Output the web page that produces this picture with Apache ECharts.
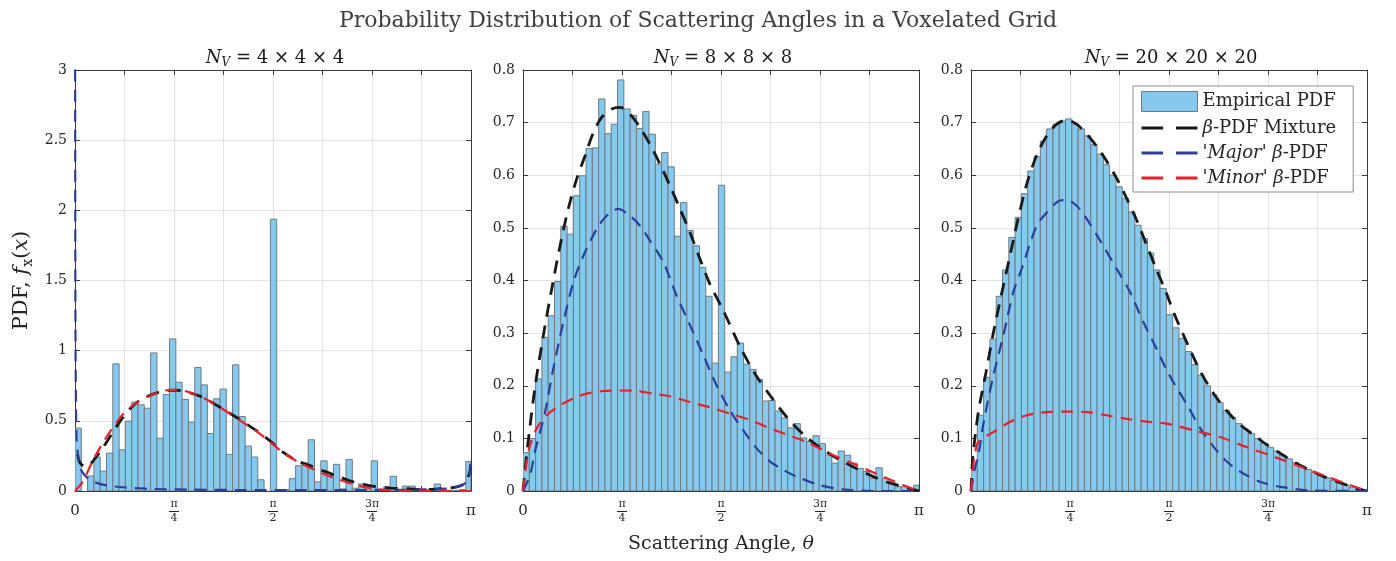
<!DOCTYPE html>
<html><head><meta charset="utf-8">
<script src="https://cdn.jsdelivr.net/npm/echarts@6/dist/echarts.min.js"></script>
<style>html,body{margin:0;padding:0;background:#fff}#c{width:1396px;height:561px}</style>
</head><body><div id="c"></div>
<script>
// ---------------- data ----------------
const BIN_WIDTH = 0.05; // rad
const xTickLabels = ['0', '', 'π/4', '', 'π/2', '', '3π/4', '', 'π'];
const panelSizes = ['4 × 4 × 4', '8 × 8 × 8', '20 × 20 × 20'];
const yMax = [3, 0.8, 0.8];
const yStep = [0.5, 0.1, 0.1];

const hist4 = [0.448,0,0.107,0.242,0.142,0.27,0.906,0.294,0.498,0.633,0.614,0.59,0.984,0.377,0.688,1.084,0.775,0.652,0.491,0.88,0.756,0.41,0.657,0.726,0.261,0.899,0.531,0.32,0.242,0.08,0,1.937,0.01,0.01,0.088,0.18,0.2,0.365,0.065,0.215,0.11,0.19,0.015,0.225,0.02,0.05,0.04,0.215,0.005,0.03,0.105,0.01,0.035,0.035,0.005,0.005,0.01,0.05,0.01,0.005,0.005,0.01,0.21];
const hist8 = [0.073,0.1,0.213,0.292,0.333,0.398,0.503,0.488,0.561,0.599,0.651,0.652,0.745,0.679,0.697,0.781,0.726,0.714,0.689,0.721,0.678,0.621,0.643,0.616,0.484,0.548,0.495,0.466,0.425,0.37,0.243,0.581,0.226,0.255,0.281,0.241,0.231,0.212,0.171,0.172,0.152,0.139,0.12,0.128,0.101,0.094,0.105,0.09,0.068,0.053,0.076,0.068,0.053,0.043,0.037,0.024,0.044,0.024,0.018,0.008,0.008,0.004,0.011];
const hist20 = [0.049,0.144,0.216,0.289,0.37,0.42,0.482,0.52,0.565,0.608,0.635,0.665,0.688,0.697,0.703,0.707,0.696,0.688,0.675,0.658,0.64,0.62,0.6,0.578,0.556,0.53,0.505,0.48,0.452,0.42,0.385,0.335,0.31,0.29,0.265,0.24,0.22,0.2,0.183,0.168,0.153,0.14,0.128,0.118,0.109,0.1,0.091,0.083,0.076,0.068,0.061,0.054,0.047,0.041,0.035,0.03,0.025,0.02,0.016,0.011,0.007,0.004,0.001];

const mix4 = [[0.02,0.26],[0.04,0.2],[0.08,0.175],[0.12,0.19],[0.2,0.28],[0.28,0.39],[0.36,0.5],[0.44,0.59],[0.52,0.65],[0.62,0.69],[0.73,0.716],[0.81,0.718],[0.91,0.7],[1.02,0.665],[1.12,0.613],[1.23,0.553],[1.34,0.49],[1.44,0.43],[1.55,0.355],[1.65,0.277],[1.76,0.215],[1.87,0.179],[1.97,0.143],[2.08,0.107],[2.18,0.072],[2.29,0.048],[2.39,0.031],[2.5,0.021],[2.61,0.017],[2.71,0.012],[2.82,0.012],[2.92,0.017],[3.03,0.029],[3.09,0.055],[3.13,0.13],[3.1416,0.21]];
const major4 = [[0.0005,4.0],[0.002,2.0],[0.004,1.1],[0.008,0.6],[0.013,0.36],[0.026,0.24],[0.04,0.17],[0.055,0.14],[0.09,0.1],[0.15,0.065],[0.25,0.04],[0.4,0.025],[0.6,0.015],[0.9,0.01],[1.3,0.007],[1.8,0.006],[2.3,0.007],[2.7,0.01],[2.95,0.018],[3.05,0.035],[3.1,0.06],[3.13,0.12],[3.1416,0.22]];
const minor4 = [[0,0],[0.066,0.072],[0.132,0.2],[0.212,0.33],[0.291,0.44],[0.384,0.55],[0.489,0.63],[0.621,0.69],[0.754,0.72],[0.859,0.715],[1.018,0.665],[1.124,0.61],[1.23,0.55],[1.336,0.487],[1.441,0.425],[1.547,0.35],[1.653,0.272],[1.785,0.2],[1.918,0.143],[2.05,0.095],[2.182,0.055],[2.315,0.024],[2.474,0.007],[2.66,0.001],[2.9,0],[3.1416,0]];

const mix8 = [[0,0],[0.025,0.06],[0.05,0.112],[0.095,0.197],[0.161,0.295],[0.228,0.384],[0.294,0.466],[0.359,0.536],[0.426,0.593],[0.492,0.637],[0.558,0.681],[0.624,0.71],[0.704,0.726],[0.769,0.729],[0.849,0.716],[0.928,0.691],[1.007,0.659],[1.087,0.621],[1.166,0.58],[1.246,0.536],[1.325,0.491],[1.404,0.441],[1.483,0.393],[1.589,0.343],[1.72,0.275],[1.84,0.223],[1.959,0.182],[2.105,0.137],[2.25,0.102],[2.41,0.074],[2.569,0.052],[2.727,0.033],[2.886,0.017],[3.02,0.008],[3.1416,0]];
const major8 = [[0,0],[0.056,0.03],[0.095,0.075],[0.175,0.15],[0.24,0.232],[0.32,0.321],[0.4,0.397],[0.479,0.447],[0.585,0.498],[0.664,0.523],[0.756,0.536],[0.849,0.523],[0.928,0.504],[1.007,0.476],[1.113,0.435],[1.219,0.371],[1.325,0.315],[1.431,0.258],[1.537,0.2],[1.642,0.153],[1.748,0.115],[1.854,0.081],[1.96,0.056],[2.066,0.04],[2.172,0.027],[2.357,0.011],[2.54,0.003],[2.8,0],[3.1416,0]];
const minor8 = [[0,0],[0.029,0.056],[0.056,0.087],[0.109,0.119],[0.188,0.144],[0.294,0.163],[0.4,0.176],[0.505,0.185],[0.637,0.19],[0.77,0.191],[0.9,0.19],[1.033,0.185],[1.166,0.18],[1.325,0.169],[1.484,0.159],[1.642,0.147],[1.8,0.135],[1.96,0.119],[2.105,0.106],[2.25,0.093],[2.436,0.071],[2.648,0.049],[2.859,0.027],[3.018,0.011],[3.1416,0]];

const mix20 = [[0,0],[0.013,0.06],[0.058,0.15],[0.111,0.215],[0.177,0.3],[0.243,0.375],[0.309,0.447],[0.376,0.52],[0.442,0.583],[0.521,0.638],[0.601,0.675],[0.68,0.697],[0.759,0.705],[0.838,0.697],[0.918,0.678],[0.997,0.655],[1.076,0.627],[1.156,0.594],[1.235,0.556],[1.314,0.515],[1.394,0.467],[1.473,0.42],[1.552,0.375],[1.61,0.338],[1.716,0.28],[1.822,0.226],[1.928,0.184],[2.034,0.151],[2.14,0.125],[2.245,0.106],[2.351,0.087],[2.457,0.071],[2.563,0.055],[2.668,0.042],[2.774,0.03],[2.88,0.02],[2.986,0.011],[3.09,0.003],[3.1416,0]];
const major20 = [[0,0],[0.03,0.042],[0.058,0.068],[0.1,0.13],[0.177,0.219],[0.256,0.295],[0.336,0.378],[0.402,0.422],[0.521,0.504],[0.601,0.529],[0.706,0.552],[0.759,0.553],[0.838,0.542],[0.918,0.517],[1.024,0.476],[1.156,0.422],[1.262,0.378],[1.367,0.321],[1.473,0.27],[1.552,0.23],[1.61,0.205],[1.716,0.163],[1.822,0.118],[1.928,0.083],[2.034,0.055],[2.14,0.036],[2.298,0.017],[2.457,0.008],[2.7,0.001],[3.1416,0]];
const minor20 = [[0,0],[0.013,0.036],[0.03,0.068],[0.058,0.093],[0.177,0.112],[0.309,0.131],[0.442,0.144],[0.601,0.15],[0.759,0.151],[0.918,0.15],[1.076,0.144],[1.235,0.137],[1.394,0.132],[1.552,0.128],[1.77,0.115],[1.981,0.102],[2.19,0.083],[2.404,0.065],[2.616,0.046],[2.827,0.027],[3.012,0.011],[3.1416,0]];

// ---------------- styling ----------------
const SERIF = "'DejaVu Serif', 'Liberation Serif', serif";
const TXT = '#262626';
const AXIS_COLOR = '#3a3a3a';
const GRID_COLOR = '#e3e3e3';
const BAR_FILL = '#86c9ee';
const BAR_EDGE = '#6f7a80';
const C_MIX = '#1a1a1a', C_MAJOR = '#2b3f9c', C_MINOR = '#e8202a';
const NAMES = ['Empirical PDF', 'β-PDF Mixture', "'Major' β-PDF", "'Minor' β-PDF"];
const GRID_LEFT = [75, 523, 971];

const hists = [hist4, hist8, hist20];
const mixes = [mix4, mix8, mix20];
const majors = [major4, major8, major20];
const minors = [minor4, minor8, minor20];

const chart = echarts.init(document.getElementById('c'), null, {renderer: 'canvas'});

const grid = GRID_LEFT.map(l => ({left: l, top: 70, width: 396, height: 421}));

const fracRich = {
  n: {fontFamily: SERIF, fontSize: 11, lineHeight: 11, color: TXT, align: 'center'},
  b: {width: 10, height: 1, lineHeight: 3, backgroundColor: TXT, fontSize: 1, align: 'center'},
  d: {fontFamily: SERIF, fontSize: 11, lineHeight: 11, color: TXT, align: 'center'},
  s: {fontFamily: SERIF, fontSize: 15, lineHeight: 25, color: TXT}
};
function xFmt(v) {
  const s = xTickLabels[Math.round(v / (Math.PI / 8))] || '';
  if (!s) return '';
  if (s.indexOf('/') >= 0) {
    const p = s.split('/');
    return '{n|' + p[0] + '}\n{b| }\n{d|' + p[1] + '}';
  }
  return '{s|' + s + '}';
}

const xAxis = [], yAxis = [], series = [];
for (let p = 0; p < 3; p++) {
  const common = {gridIndex: p, type: 'value', min: 0, max: Math.PI, interval: Math.PI / 8};
  xAxis.push(Object.assign({}, common, {
    position: 'bottom',
    axisLine: {show: true, onZero: false, lineStyle: {color: AXIS_COLOR, width: 1}},
    axisTick: {show: true, inside: true, length: 5, lineStyle: {color: AXIS_COLOR}},
    splitLine: {show: true, lineStyle: {color: GRID_COLOR, width: 1}},
    axisLabel: {margin: 8, formatter: xFmt, rich: fracRich, hideOverlap: false, showMinLabel: true, showMaxLabel: true},
    name: p === 1 ? 'Scattering Angle, {i|θ}' : '',
    nameLocation: 'middle', nameGap: 44,
    nameTextStyle: {fontFamily: SERIF, fontSize: 19, color: TXT,
      rich: {i: {fontFamily: SERIF, fontSize: 19, fontStyle: 'italic', color: TXT}}}
  }));
  yAxis.push({
    gridIndex: p, type: 'value', min: 0, max: yMax[p], interval: yStep[p], position: 'left',
    axisLine: {show: true, onZero: false, lineStyle: {color: AXIS_COLOR, width: 1}},
    axisTick: {show: true, inside: true, length: 5, lineStyle: {color: AXIS_COLOR}},
    splitLine: {show: true, lineStyle: {color: GRID_COLOR, width: 1}},
    axisLabel: {margin: 8, fontFamily: SERIF, fontSize: 14, color: TXT},
    name: p === 0 ? '{t|PDF, }{i|f}{s|x}{t|(}{i|x}{t|)}' : '',
    nameLocation: 'middle', nameGap: 40, nameRotate: 90,
    nameTextStyle: {fontFamily: SERIF, fontSize: 21, color: TXT, rich: {
      t: {fontFamily: SERIF, fontSize: 21, color: TXT, lineHeight: 26},
      i: {fontFamily: SERIF, fontSize: 21, fontStyle: 'italic', color: TXT, lineHeight: 26},
      s: {fontFamily: SERIF, fontSize: 14, color: TXT, verticalAlign: 'bottom', lineHeight: 26, padding: [10, 0, 0, 0]}
    }}
  });
}
for (let p = 0; p < 3; p++) {
  xAxis.push({gridIndex: p, type: 'value', min: 0, max: Math.PI, interval: Math.PI / 8, position: 'top',
    axisLine: {show: true, onZero: false, lineStyle: {color: AXIS_COLOR}},
    axisTick: {show: true, inside: true, length: 5, lineStyle: {color: AXIS_COLOR}},
    axisLabel: {show: false}, splitLine: {show: false}});
  yAxis.push({gridIndex: p, type: 'value', min: 0, max: yMax[p], interval: yStep[p], position: 'right',
    axisLine: {show: true, onZero: false, lineStyle: {color: AXIS_COLOR}},
    axisTick: {show: true, inside: true, length: 5, lineStyle: {color: AXIS_COLOR}},
    axisLabel: {show: false}, splitLine: {show: false}});
}

function renderBin(params, api) {
  const h = api.value(2);
  if (!(h > 0)) return null;
  const tl = api.coord([api.value(0), h]);
  const br = api.coord([api.value(1), 0]);
  return {type: 'rect', shape: {x: tl[0], y: tl[1], width: br[0] - tl[0], height: br[1] - tl[1]},
    style: {fill: BAR_FILL, stroke: BAR_EDGE, lineWidth: 1}};
}

function lineSeries(name, data, p, color, width, dash) {
  return {name: name, type: 'line', xAxisIndex: p, yAxisIndex: p, data: data,
    symbol: 'none', smooth: 0.3, clip: true, silent: true,
    lineStyle: {color: color, width: width, type: dash}, itemStyle: {color: color}, z: 3};
}

for (let p = 0; p < 3; p++) {
  const binData = hists[p].map((h, i) => [i * BIN_WIDTH, Math.min((i + 1) * BIN_WIDTH, Math.PI), h]);
  series.push({name: NAMES[0], type: 'custom', xAxisIndex: p, yAxisIndex: p, data: binData,
    encode: {x: [0, 1], y: 2}, renderItem: renderBin, silent: true, clip: true,
    itemStyle: {color: BAR_FILL, borderColor: BAR_EDGE, borderWidth: 1}, z: 2});
  series.push(lineSeries(NAMES[1], mixes[p], p, C_MIX, 2.8, [13, 9]));
  series.push(lineSeries(NAMES[2], majors[p], p, C_MAJOR, 2.2, [12, 8]));
  series.push(lineSeries(NAMES[3], minors[p], p, C_MINOR, 2.2, [12, 8]));
}

const titles = [{text: 'Probability Distribution of Scattering Angles in a Voxelated Grid',
  left: 'center', top: 5, textStyle: {fontFamily: SERIF, fontSize: 22, fontWeight: 'normal', color: '#404040'}}];
for (let p = 0; p < 3; p++) {
  titles.push({text: '{i|N}{s|V}{t| = ' + panelSizes[p] + '}', left: GRID_LEFT[p] + 195, top: 42, textAlign: 'center',
    textStyle: {fontWeight: 'normal', rich: {
      i: {fontFamily: SERIF, fontSize: 18, fontStyle: 'italic', fontWeight: 'normal', color: '#1a1a1a', lineHeight: 22},
      s: {fontFamily: SERIF, fontSize: 12, fontStyle: 'italic', fontWeight: 'normal', color: '#1a1a1a', verticalAlign: 'bottom', lineHeight: 22, padding: [8, 0, 0, 0]},
      t: {fontFamily: SERIF, fontSize: 18, fontWeight: 'normal', color: '#1a1a1a', lineHeight: 22}
    }}});
}

const dashIcon = 'path://M0,0H20V3H0Z M32,0H52V3H32Z';
const legendRich = {i: {fontFamily: SERIF, fontSize: 18, fontStyle: 'italic', color: TXT}};
chart.setOption({
  animation: false,
  backgroundColor: '#fff',
  title: titles,
  grid: grid,
  xAxis: xAxis,
  yAxis: yAxis,
  legend: {
    orient: 'vertical', left: 1133, top: 86, padding: [5, 17, 5, 8], itemGap: 7,
    itemWidth: 56, itemHeight: 20, backgroundColor: '#fff', borderColor: '#8c8c8c', borderWidth: 1,
    selectedMode: false,
    textStyle: {fontFamily: SERIF, fontSize: 18, color: TXT, rich: legendRich},
    formatter: function (n) {
      if (n === NAMES[1]) return '{i|β}-PDF Mixture';
      if (n === NAMES[2]) return "'{i|Major}' {i|β}-PDF";
      if (n === NAMES[3]) return "'{i|Minor}' {i|β}-PDF";
      return n;
    },
    data: [
      {name: NAMES[0], icon: 'rect', itemStyle: {color: BAR_FILL, borderColor: BAR_EDGE, borderWidth: 1}},
      {name: NAMES[1], icon: dashIcon, itemStyle: {color: C_MIX}},
      {name: NAMES[2], icon: dashIcon, itemStyle: {color: C_MAJOR}},
      {name: NAMES[3], icon: dashIcon, itemStyle: {color: C_MINOR}}
    ]
  },
  series: series
});
</script>
</body></html>
